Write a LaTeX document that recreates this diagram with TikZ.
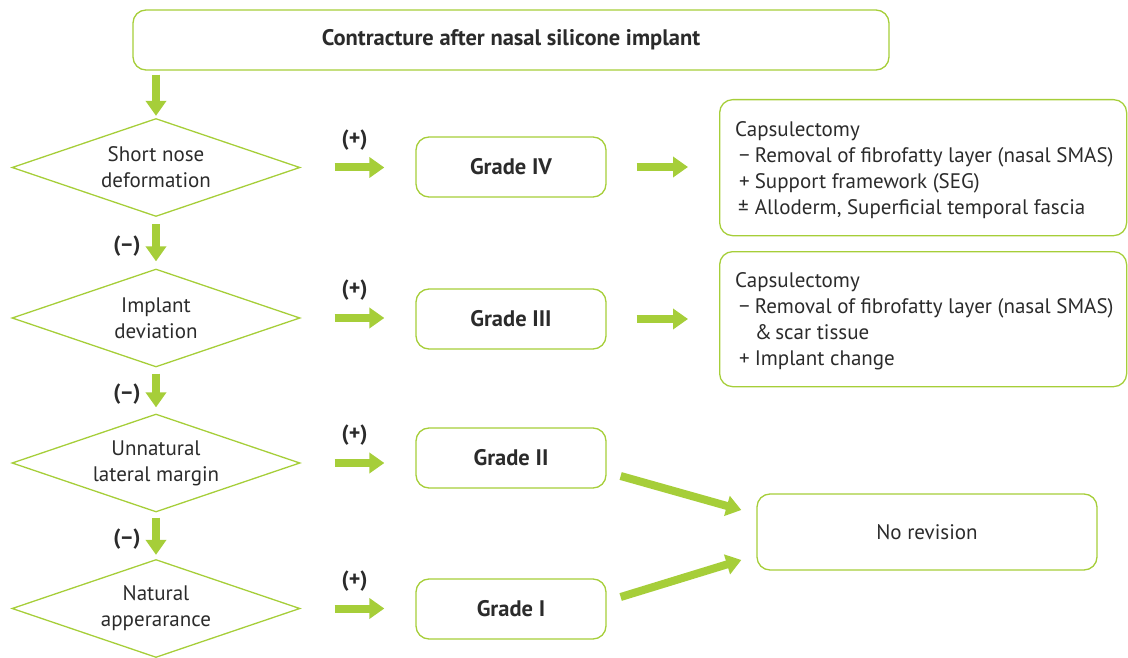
\documentclass[tikz,border=0pt]{standalone}
\usepackage{fontspec}
\setmainfont{PT Sans}
\usetikzlibrary{arrows.meta,shapes.geometric,calc}
\definecolor{gr}{HTML}{A6CE39}
\definecolor{tx}{HTML}{2B2B2B}
\begin{document}
\begin{tikzpicture}[x=1pt,y=-1pt,
  every node/.style={text=tx,font=\fontsize{21}{26}\selectfont},
  rbox/.style={draw=gr,line width=1.3pt,rounded corners=13pt,inner sep=0pt},
  bbox/.style={rbox,minimum width=190pt,minimum height=60pt,font=\fontsize{22.5}{26}\selectfont\bfseries},
  dia/.style={draw=gr,line width=1.3pt,diamond,shape aspect=2.94,inner sep=0pt,minimum width=288pt,minimum height=98pt,align=center},
  garrow/.style={draw=gr,line width=8pt,-{Triangle[width=20pt,length=15pt]}},
  lbl/.style={font=\fontsize{22}{24}\selectfont\bfseries}
]
\useasboundingbox (0,0) rectangle (1128,658);
% top box
\node[rbox,minimum width=756pt,minimum height=60pt,font=\fontsize{22.5}{26}\selectfont\bfseries] (top) at (511,40) {Contracture after nasal silicone implant};
% diamonds
\node[dia] (d1) at (156,167.5) {Short nose\\deformation};
\node[dia] (d2) at (156,318) {Implant\\deviation};
\node[dia] (d3) at (156,463) {Unnatural\\lateral margin};
\node[dia] (d4) at (156,608.5) {Natural\\apperarance};
% grade boxes
\node[bbox] (g4) at (511,167) {Grade IV};
\node[bbox] (g3) at (511,319) {Grade III};
\node[bbox] (g2) at (511,458) {Grade II};
\node[bbox] (g1) at (511,609) {Grade I};
% treatment boxes
\node[rbox,minimum width=407pt,minimum height=136pt,anchor=north west] (t4) at (719,99) {};
\node[anchor=north west,align=left,inner sep=0pt] (t4txt) at (735,118) {\begin{tabular}{@{}l@{\hspace{5pt}}l@{}}
\multicolumn{2}{@{}l}{Capsulectomy}\\
\hspace*{4pt}− & Removal of fibrofatty layer (nasal SMAS)\\
\hspace*{4pt}+ & Support framework (SEG)\\
\hspace*{3pt}±\hspace*{-5pt} & Alloderm, Superficial temporal fascia
\end{tabular}};
\node[rbox,minimum width=407pt,minimum height=135pt,anchor=north west] (t3) at (719,251) {};
\node[anchor=north west,align=left,inner sep=0pt] (t3txt) at (735,269) {\begin{tabular}{@{}l@{\hspace{5pt}}l@{}}
\multicolumn{2}{@{}l}{Capsulectomy}\\
\hspace*{4pt}− & Removal of fibrofatty layer (nasal SMAS)\\
 & \&\,scar tissue\\
\hspace*{4pt}+ & Implant change
\end{tabular}};
\node[rbox,minimum width=340pt,minimum height=76pt] (nr) at (927,532) {No revision};
% vertical arrows
\draw[garrow,shorten <=4pt,shorten >=2pt] (top.south -| d1.north) -- (d1.north);
\draw[garrow,shorten <=7pt,shorten >=7pt] (d1.south) -- node[lbl,left=8pt,pos=0.57]{(–)} (d2.north);
\draw[garrow,shorten <=6pt,shorten >=6pt] (d2.south) -- node[lbl,left=8pt,pos=0.57]{(–)} (d3.north);
\draw[garrow,shorten <=5pt,shorten >=4pt] (d3.south) -- node[lbl,left=8pt,pos=0.57]{(–)} (d4.north);
% horizontal arrows
\foreach \d/\g in {d1/g4,d2/g3,d3/g2,d4/g1}{
  \draw[garrow,shorten <=34pt,shorten >=31pt] (\d.east) -- node[lbl,above=10pt,pos=0.47]{(+)} (\d.east -| \g.west);
}
\draw[garrow,shorten <=30pt,shorten >=31pt] (g4.east) -- (g4.east -| t4.west);
\draw[garrow,shorten <=30pt,shorten >=31pt] (g3.east) -- (g3.east -| t3.west);
% diagonal arrows
\draw[garrow] ($(g2.east)+(14,18)$) -- ($(nr.west)+(-15,-22)$);
\draw[garrow] ($(g1.east)+(14,-12)$) -- ($(nr.west)+(-15,28)$);
\end{tikzpicture}
\end{document}
